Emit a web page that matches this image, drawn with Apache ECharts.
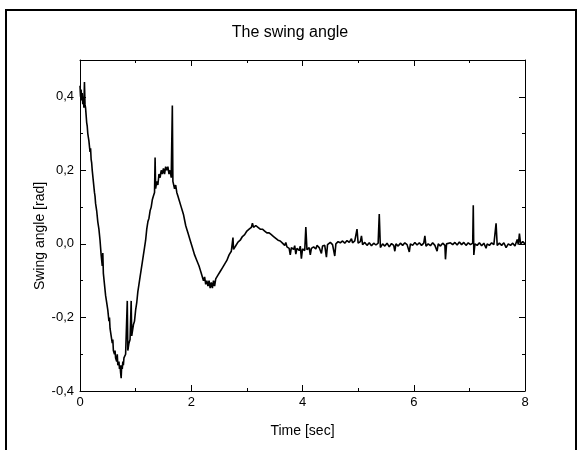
<!DOCTYPE html>
<html>
<head>
<meta charset="utf-8">
<script src="https://cdn.jsdelivr.net/npm/echarts@6/dist/echarts.min.js"></script>
<style>
html,body{margin:0;padding:0;background:#fff;}
#chart{width:580px;height:450px;}
</style>
</head>
<body>
<div id="chart"></div>
<script>
// Time [sec] of each sample
const timeSec = [
0.00,0.01,0.02,0.03,0.04,0.05,0.06,0.07,0.08,0.09,0.10,0.11,0.12,0.13,0.14,0.16,0.18,0.19,0.20,0.21,
0.22,0.24,0.26,0.27,0.28,0.29,0.30,0.32,0.33,0.34,0.36,0.38,0.40,0.41,0.42,0.44,0.46,0.48,0.50,0.52,
0.53,0.54,0.56,0.58,0.59,0.60,0.62,0.63,0.64,0.66,0.67,0.68,0.70,0.71,0.72,0.73,0.74,0.75,0.76,0.77,
0.78,0.79,0.80,0.82,0.84,0.85,0.86,0.88,0.90,0.92,0.93,0.94,0.96,0.98,1.00,1.02,1.04,1.06,1.08,1.10,
1.12,1.14,1.16,1.18,1.20,1.22,1.24,1.26,1.28,1.30,1.32,1.34,1.35,1.36,1.38,1.40,1.42,1.44,1.46,1.48,
1.50,1.52,1.54,1.56,1.58,1.60,1.62,1.64,1.66,1.67,1.68,1.70,1.72,1.74,1.76,1.78,1.80,1.82,1.84,1.86,
1.88,1.90,1.92,1.94,1.96,1.98,2.00,2.02,2.04,2.06,2.08,2.10,2.12,2.14,2.16,2.18,2.20,2.22,2.24,2.26,
2.28,2.30,2.32,2.34,2.36,2.38,2.40,2.42,2.44,2.46,2.48,2.50,2.52,2.54,2.56,2.58,2.60,2.62,2.64,2.66,
2.68,2.70,2.72,2.74,2.75,2.76,2.78,2.80,2.84,2.88,2.92,2.96,3.00,3.04,3.08,3.10,3.12,3.16,3.20,3.24,
3.28,3.32,3.36,3.40,3.44,3.48,3.52,3.56,3.60,3.64,3.68,3.70,3.72,3.76,3.78,3.80,3.84,3.86,3.88,3.90,
3.94,3.96,3.98,4.00,4.04,4.06,4.08,4.12,4.14,4.16,4.20,4.24,4.26,4.30,4.34,4.36,4.40,4.43,4.45,4.50,
4.54,4.58,4.60,4.64,4.68,4.72,4.76,4.80,4.84,4.88,4.90,4.94,4.98,5.00,5.04,5.06,5.08,5.12,5.16,5.20,
5.24,5.28,5.32,5.36,5.38,5.40,5.44,5.48,5.52,5.56,5.60,5.64,5.66,5.68,5.72,5.76,5.80,5.84,5.88,5.92,
5.94,5.98,6.02,6.06,6.10,6.14,6.18,6.20,6.22,6.26,6.30,6.34,6.38,6.42,6.44,6.48,6.52,6.56,6.57,6.59,
6.62,6.66,6.70,6.74,6.78,6.82,6.86,6.90,6.94,6.98,7.02,7.06,7.07,7.08,7.10,7.14,7.18,7.22,7.26,7.30,
7.32,7.36,7.40,7.44,7.48,7.50,7.54,7.58,7.62,7.66,7.70,7.74,7.78,7.82,7.86,7.88,7.90,7.92,7.96,8.00
];
// Swing angle [rad] of each sample
const swingAngle = [
0.43,0.40,0.42,0.39,0.41,0.38,0.40,0.37,0.44,0.38,0.37,0.35,0.33,0.32,0.30,0.28,0.25,0.26,0.23,0.22,
0.20,0.17,0.14,0.13,0.11,0.115,0.09,0.06,0.065,0.04,0.01,-0.03,-0.06,-0.025,-0.08,-0.11,-0.14,-0.16,-0.18,-0.21,
-0.20,-0.23,-0.25,-0.27,-0.26,-0.29,-0.30,-0.29,-0.31,-0.32,-0.30,-0.33,-0.32,-0.34,-0.33,-0.35,-0.365,-0.33,-0.34,-0.32,
-0.33,-0.31,-0.31,-0.30,-0.30,-0.155,-0.29,-0.27,-0.26,-0.155,-0.25,-0.24,-0.22,-0.21,-0.18,-0.16,-0.13,-0.11,-0.09,-0.07,
-0.05,-0.03,-0.01,0.01,0.04,0.06,0.07,0.09,0.10,0.12,0.13,0.14,0.235,0.15,0.17,0.16,0.19,0.18,0.20,0.19,
0.205,0.19,0.21,0.20,0.21,0.19,0.20,0.18,0.376,0.17,0.17,0.15,0.16,0.14,0.13,0.12,0.12,0.10,0.09,0.08,
0.065,0.05,0.04,0.03,0.02,0.01,0.005,-0.01,-0.02,-0.03,-0.025,-0.045,-0.05,-0.06,-0.07,-0.08,-0.085,-0.10,-0.09,-0.11,
-0.10,-0.115,-0.10,-0.12,-0.105,-0.12,-0.10,-0.115,-0.095,-0.10,-0.085,-0.09,-0.075,-0.08,-0.065,-0.07,-0.055,-0.06,-0.045,-0.04,
-0.03,-0.035,-0.02,-0.025,0.017,-0.015,-0.01,-0.005,0.005,0.01,0.02,0.025,0.035,0.04,0.045,0.056,0.045,0.05,0.045,0.04,
0.04,0.035,0.03,0.03,0.025,0.02,0.015,0.01,0.008,0.002,-0.004,0.004,-0.008,-0.012,-0.03,-0.01,-0.015,-0.005,-0.028,-0.012,
-0.018,-0.006,-0.04,-0.014,-0.018,0.046,-0.016,-0.01,-0.03,-0.012,-0.008,-0.014,-0.004,-0.01,-0.026,-0.006,-0.004,-0.036,-0.002,0.004,
-0.002,-0.033,0.0,0.006,0.003,0.008,0.002,0.009,0.004,0.014,0.003,0.008,0.04,0.002,0.006,0.022,-0.002,0.004,-0.004,0.003,
-0.005,0.002,-0.003,0.002,0.081,-0.01,0.0,-0.006,0.002,-0.008,0.001,-0.004,-0.02,0.0,-0.006,0.002,-0.004,0.003,-0.002,-0.022,
0.0,-0.004,0.004,-0.003,0.003,-0.004,0.002,0.022,-0.006,0.0,-0.005,0.003,-0.004,-0.02,0.0,-0.006,0.002,-0.004,-0.042,0.0,
-0.005,0.003,-0.002,0.004,-0.003,0.005,-0.002,0.004,-0.004,0.003,-0.002,0.002,0.105,-0.03,0.0,-0.004,0.003,-0.005,0.002,-0.012,
0.0,-0.004,0.003,-0.002,0.056,-0.004,0.002,-0.004,0.003,-0.01,0.0,-0.004,0.002,-0.006,0.012,-0.002,0.028,0.0,0.006,0.0
];
const xTickLabels = ['0','2','4','6','8'];
const yTickLabels = ['-0,4','-0,2','0,0','0,2','0,4'];
const yTickValues = [-0.4,-0.2,0,0.2,0.4];

const pts = timeSec.map((t,i)=>[t, swingAngle[i]]);
const FONT = 'Liberation Sans';

function yLabel(v){
  for (let i=0;i<yTickValues.length;i++){ if (Math.abs(v-yTickValues[i])<1e-6) return yTickLabels[i]; }
  return '';
}
function xLabel(v){
  const idx = xTickLabels.indexOf(String(Math.round(v)));
  return (Math.abs(v-Math.round(v))<1e-6 && idx>=0) ? xTickLabels[idx] : '';
}
const lineStyle = {color:'#000', width:1};
const tickMinor = {show:true, inside:true, length:3, lineStyle:{color:'#000', width:1}};
const tickMajor = {show:true, inside:true, length:6, lineStyle:{color:'#000', width:1}};

const chart = echarts.init(document.getElementById('chart'), null, {renderer:'canvas'});
chart.setOption({
  animation:false,
  backgroundColor:'#fff',
  title:{text:'The swing angle', left:'center', top:25, padding:0,
    textStyle:{fontFamily:FONT, fontSize:16, fontWeight:'normal', color:'#000'}},
  graphic:[
    {type:'rect', shape:{x:6, y:10, width:570, height:450}, style:{fill:'none', stroke:'#000', lineWidth:2}, z:100},
    {type:'text', x:40, y:236, rotation:Math.PI/2,
     style:{text:'Swing angle [rad]', fontFamily:FONT, fontSize:14, fill:'#000', align:'center', verticalAlign:'middle'}}
  ],
  grid:{left:80, right:55, top:60, bottom:59, containLabel:false},
  xAxis:[
    {type:'value', position:'bottom', min:0, max:8, interval:1,
     name:'Time [sec]', nameLocation:'middle', nameGap:33,
     nameTextStyle:{fontFamily:FONT, fontSize:14, color:'#000'},
     axisLine:{show:true, onZero:false, lineStyle}, axisTick:tickMinor,
     axisLabel:{fontFamily:FONT, fontSize:13, color:'#000', margin:5, formatter:xLabel},
     splitLine:{show:false}},
    {type:'value', position:'bottom', min:0, max:8, interval:2,
     axisLine:{show:false, onZero:false}, axisTick:tickMajor, axisLabel:{show:false}, splitLine:{show:false}},
    {type:'value', position:'top', min:0, max:8, interval:1,
     axisLine:{show:true, onZero:false, lineStyle}, axisTick:tickMinor, axisLabel:{show:false}, splitLine:{show:false}},
    {type:'value', position:'top', min:0, max:8, interval:2,
     axisLine:{show:false, onZero:false}, axisTick:tickMajor, axisLabel:{show:false}, splitLine:{show:false}}
  ],
  yAxis:[
    {type:'value', position:'left', min:-0.4, max:0.5, interval:0.1,
     axisLine:{show:true, onZero:false, lineStyle}, axisTick:tickMinor,
     axisLabel:{fontFamily:FONT, fontSize:13, color:'#000', margin:6, formatter:yLabel},
     splitLine:{show:false}},
    {type:'value', position:'left', min:-0.4, max:0.5, interval:0.2,
     axisLine:{show:false, onZero:false}, axisTick:tickMajor, axisLabel:{show:false}, splitLine:{show:false}},
    {type:'value', position:'right', min:-0.4, max:0.5, interval:0.1,
     axisLine:{show:true, onZero:false, lineStyle}, axisTick:tickMinor, axisLabel:{show:false}, splitLine:{show:false}},
    {type:'value', position:'right', min:-0.4, max:0.5, interval:0.2,
     axisLine:{show:false, onZero:false}, axisTick:tickMajor, axisLabel:{show:false}, splitLine:{show:false}}
  ],
  series:[{
    type:'line', xAxisIndex:0, yAxisIndex:0, data:pts, showSymbol:false, symbol:'none',
    lineStyle:{color:'#000', width:1.6}, clip:true
  }]
});
</script>
</body>
</html>
